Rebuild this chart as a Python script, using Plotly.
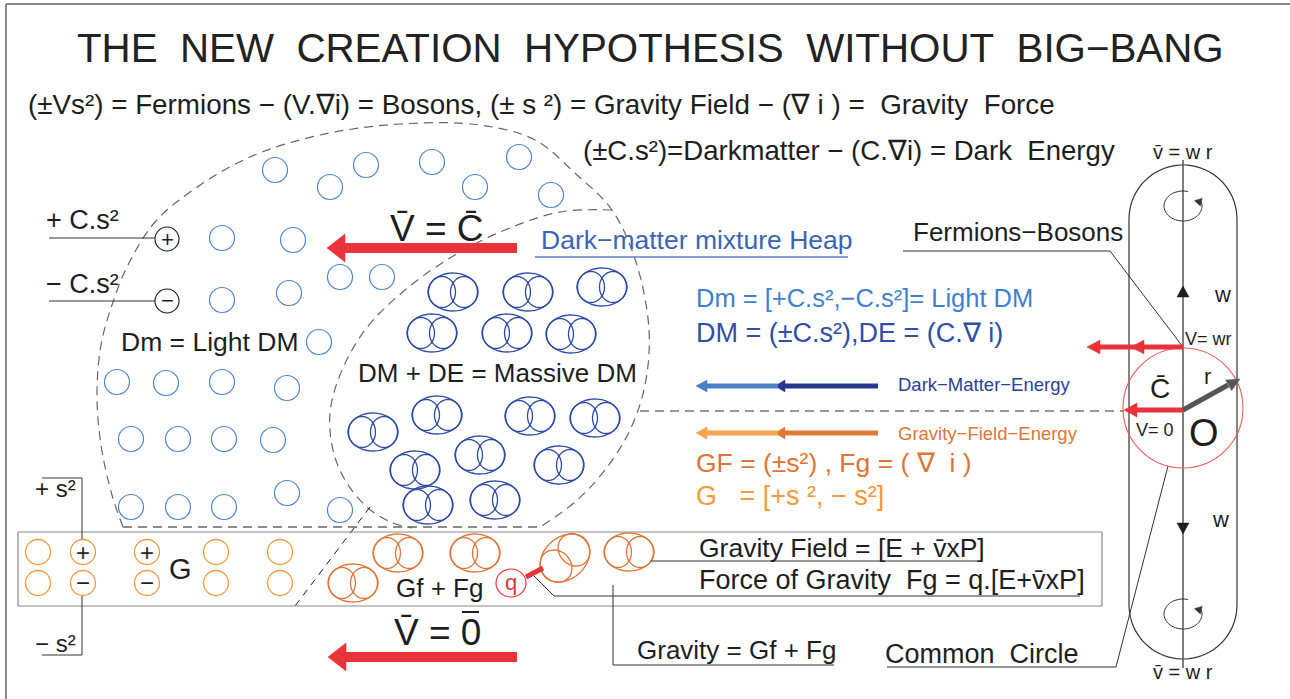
import numpy as np
import plotly.graph_objects as go

W, H = 1290, 699

# ---------------- data ----------------
# light dark-matter particles (single blue circles)
light_dm_x = [275, 330, 366, 432, 475, 519, 551, 222, 293, 340, 382, 222, 289, 319,
              117, 166, 222, 287, 131, 178, 224, 273, 131, 178, 224, 287, 340]
light_dm_y = [170, 187, 165, 162, 187, 157, 195, 238, 240, 277, 277, 300, 293, 342,
              382, 383, 382, 388, 439, 439, 439, 440, 507, 507, 507, 493, 510]
# massive dark-matter particles (paired blue circles)
massive_dm_x = [453, 528, 602, 432, 507, 571, 437, 530, 595, 373, 480, 559, 415, 428, 495]
massive_dm_y = [292, 292, 287, 333, 333, 334, 415, 416, 418, 432, 455, 465, 470, 505, 500]
# gravity field particles (single orange circles in the G band)
g_col_x = [38, 83, 147, 216, 280]
g_row_y = [552, 583]
charged_x = [83, 147]          # columns holding + (top row) and - (bottom row)
# Gf + Fg orange pairs
gf_pair_x = [398, 475, 353, 629, 565]
gf_pair_y = [553, 553, 583, 552, 558]
gf_pair_rot = [0, 0, 0, 0, -42]
# dashed boundaries
outer_x = [123, 112, 101, 97, 101, 112, 128, 155, 193, 250, 320, 400, 480, 535, 577,
           612, 636, 649, 645, 630, 605, 575, 540]
outer_y = [527, 495, 445, 395, 345, 305, 265, 222, 190, 157, 135, 124, 125, 140, 175,
           210, 262, 330, 385, 430, 470, 502, 527]
inner_x = [612, 560, 505, 455, 405, 365, 340, 330, 333, 345, 368, 393, 412]
inner_y = [210, 212, 230, 255, 290, 330, 375, 413, 450, 480, 508, 523, 528]

# ---------------- styles ----------------
FONT = "Liberation Sans, Arial, sans-serif"
BLACK = "#1e1e1e"
RED = "#e8333b"
LBLUE = "#4d84d1"
DBLUE = "#2c4aa6"
LORANGE = "#f59a3c"
DORANGE = "#df7434"
GREY = "#666666"

shapes = []
ann = []


def nb(s):
    return s.replace(" ", "\u00a0")


def txt(x, y, s, size, color=BLACK, xanchor="left"):
    ann.append(dict(x=x, y=y, xref="x", yref="y", text=nb(s), showarrow=False,
                    xanchor=xanchor, yanchor="middle",
                    font=dict(family=FONT, size=size, color=color)))


def pth(xs, ys, close=False):
    s = "M " + " L ".join(f"{a:.1f},{b:.1f}" for a, b in zip(xs, ys))
    return s + (" Z" if close else "")


def line(x0, y0, x1, y1, color=BLACK, width=1, dash=None):
    d = dict(color=color, width=width)
    if dash:
        d["dash"] = dash
    shapes.append(dict(type="line", xref="x", yref="y", x0=x0, y0=y0, x1=x1, y1=y1, line=d))


def poly(xs, ys, color=BLACK, width=1, fill=None, close=False, dash=None):
    d = dict(color=color, width=width)
    if dash:
        d["dash"] = dash
    shapes.append(dict(type="path", xref="x", yref="y", path=pth(xs, ys, close),
                       line=d, fillcolor=fill if fill else "rgba(0,0,0,0)"))


def circle(cx, cy, r, color, width=1.2, ry=None):
    ry = r if ry is None else ry
    shapes.append(dict(type="circle", xref="x", yref="y", x0=cx - r, x1=cx + r,
                       y0=cy - ry, y1=cy + ry, line=dict(color=color, width=width)))


def ellipse(cx, cy, rx, ry, rot=0, ox=0.0, oy=0.0, n=64):
    t = np.linspace(0, 2 * np.pi, n)
    x = ox + rx * np.cos(t)
    y = oy + ry * np.sin(t)
    a = np.radians(rot)
    return cx + x * np.cos(a) - y * np.sin(a), cy + x * np.sin(a) + y * np.cos(a)


def pair(cx, cy, color, rot=0, scale=1.0):
    for (rx, ry, ox) in [(25, 19, 0), (13.5, 15.5, -11), (13.5, 15.5, 11)]:
        xs, ys = ellipse(cx, cy, rx * scale, ry * scale, rot, ox * scale)
        poly(xs, ys, color=color, width=1.3, close=True)


def head(tx, ty, ux, uy, length, half, color):
    # triangle head with tip (tx,ty), pointing along unit vector (ux,uy)
    bx, by = tx - ux * length, ty - uy * length
    px, py = -uy, ux
    poly([tx, bx + px * half, bx - px * half], [ty, by + py * half, by - py * half],
         color=color, width=0.5, fill=color, close=True)


def harrow(x_from, x_to, y, color, width, hl, hw):
    # horizontal arrow pointing to x_to
    d = 1 if x_to > x_from else -1
    line(x_from, y, x_to - d * hl * 0.9, y, color=color, width=width)
    head(x_to, y, d, 0, hl, hw, color)


# ---------------- frame ----------------
line(6, 4, 6, H + 5, color="#888888", width=2)
line(6, 4, W + 5, 4, color="#888888", width=2)

# ---------------- dashed regions ----------------
traces = [
    go.Scatter(x=outer_x, y=outer_y, mode="lines",
               line=dict(shape="spline", color=GREY, width=1.2, dash="9px,6px"),
               hoverinfo="skip", showlegend=False),
    go.Scatter(x=inner_x, y=inner_y, mode="lines",
               line=dict(shape="spline", color=GREY, width=1.2, dash="9px,6px"),
               hoverinfo="skip", showlegend=False),
]
line(123, 527, 540, 527, color=GREY, width=1.5, dash="9px,6px")
line(370, 507, 295, 606, color=BLACK, width=1, dash="7px,6px")
line(640, 411, 1124, 411, color="#777777", width=1.5, dash="9px,6px")

# ---------------- particles ----------------
for x, y in zip(light_dm_x, light_dm_y):
    circle(x, y, 12.5, LBLUE, 1.2)
for x, y in zip(massive_dm_x, massive_dm_y):
    pair(x, y, DBLUE)

# G band
shapes.append(dict(type="rect", xref="x", yref="y", x0=18, x1=1102, y0=532, y1=606,
                   line=dict(color="#8a8a8a", width=1.2)))
for x in g_col_x:
    for y in g_row_y:
        circle(x, y, 12.5, LORANGE, 1.3)
for x in charged_x:
    txt(x, g_row_y[0], "+", 24, BLACK, "center")
    txt(x, g_row_y[1] - 1, "−", 24, BLACK, "center")
for x, y, r in zip(gf_pair_x, gf_pair_y, gf_pair_rot):
    pair(x, y, DORANGE, r, 1.0 if r == 0 else 1.1)

# + C.s2 / - C.s2 charges
circle(167, 239, 12, BLACK, 1.1)
circle(167, 301, 12, BLACK, 1.1)
txt(167, 239, "+", 22, BLACK, "center")
txt(167, 300, "−", 22, BLACK, "center")
line(49, 238, 155, 238, color="#333333", width=1)
line(49, 301, 155, 301, color="#333333", width=1)
txt(44, 220, "+ C.s²", 27)
txt(44, 284, "− C.s²", 27)

# + s2 / - s2 leaders
poly([42, 82, 82], [478, 478, 539], color="#333333", width=1)
poly([82, 82, 42], [596, 655, 655], color="#333333", width=1)
txt(33, 488, "+ s²", 24)
txt(33, 643, "− s²", 24)

# ---------------- texts ----------------
txt(650, 48, "THE  NEW  CREATION  HYPOTHESIS  WITHOUT  BIG−BANG", 40.3, "#222222", "center")
txt(26, 104, "(±Vs²) = Fermions − (V.∇i) = Bosons, (± s ²) = Gravity Field − (∇ i ) =  Gravity  Force", 27.8)
txt(581, 150, "(±C.s²)=Darkmatter − (C.∇i) = Dark  Energy", 27.6)

txt(119, 342, "Dm = Light DM", 26.5)
txt(356, 373, "DM + DE = Massive DM", 26)
txt(180, 569, "G", 29, BLACK, "center")
txt(394, 588, "Gf + Fg", 26)

txt(539, 240, "Dark−matter mixture Heap", 26.5, "#3d63b8")
line(535, 257, 848, 257, color="#5b7fc4", width=1.5)
txt(694, 298, "Dm = [+C.s²,−C.s²]= Light DM", 25.5, "#3f7fcf")
txt(694, 333, "DM = (±C.s²),DE = (C.∇ i)", 27, "#2e4ea8")
txt(896, 384, "Dark−Matter−Energy", 18.5, "#2b3f98")
txt(896, 433, "Gravity−Field−Energy", 18.5, DORANGE)
txt(694, 463, "GF = (±s²) , Fg = ( ∇  i )", 26.5, DORANGE)
txt(694, 496, "G   = [+s ², − s²]", 27, LORANGE)

# energy arrows
line(785, 386, 878, 386, color="#27368f", width=5)
head(775, 386, -1, 0, 10, 6, "#27368f")
line(707, 386, 778, 386, color="#4a7fc9", width=5)
head(696, 386, -1, 0, 11, 6, "#4a7fc9")
line(785, 433, 878, 433, color="#e07836", width=5)
head(775, 433, -1, 0, 10, 6, "#e07836")
line(707, 433, 778, 433, color="#f7a24c", width=5)
head(696, 433, -1, 0, 11, 6, "#f7a24c")

# big velocity arrows
txt(437, 228, "V\u0304 = C\u0304", 37, BLACK, "center")
harrow(517, 327, 248, RED, 10, 18, 14)
txt(437, 632, "V\u0304 = 0", 37, BLACK, "center")
line(462, 612, 479, 612, color=BLACK, width=2)
harrow(517, 328, 657, RED, 10, 18, 14)

# q charge
circle(511, 583, 15, RED, 1.2, ry=14)
txt(511, 582, "q", 22, RED, "center")
line(526, 577, 543, 568, color=RED, width=5)

# gravity labels
txt(697, 548, "Gravity Field = [E + v\u0304xP]", 26.5)
poly([651, 982], [561, 561], color="#333333", width=1)
txt(697, 580, "Force of Gravity  Fg = q.[E+v\u0304xP]", 27)
poly([534, 554, 1080], [576, 596, 596], color="#333333", width=1)
txt(635, 650, "Gravity = Gf + Fg", 26)
poly([613, 613, 834], [585, 665, 665], color="#333333", width=1)
txt(883, 654, "Common  Circle", 27)
poly([887, 1116, 1168], [667, 667, 466], color="#333333", width=1)
txt(911, 232, "Fermions−Bosons", 26)
poly([903, 1110, 1183], [251, 251, 347], color="#333333", width=1)

# ---------------- common circle (right) ----------------
cx, top, bot, rr = 1183, 165, 659, 54
t1 = np.linspace(np.pi, 2 * np.pi, 40)
t2 = np.linspace(0, np.pi, 40)
cap_x = list(cx + rr * np.cos(t1)) + list(cx + rr * np.cos(t2))
cap_y = list(top + rr + rr * np.sin(t1)) + list(bot - rr + rr * np.sin(t2))
poly(cap_x, cap_y, color="#333333", width=1.2, close=True)
line(cx, 160, cx, 668, color="#555555", width=1.5)
circle(cx, 408, 60, "#ef5a5a", 1.1)

txt(cx, 152, "v\u0304 = w r", 20, BLACK, "center")
txt(cx, 672, "v\u0304 = w r", 20, BLACK, "center")

for cyy in (206, 614):
    tt = np.linspace(np.radians(75), np.radians(375), 50)
    ax = cx + 19 * np.cos(tt)
    ay = cyy - 15 * np.sin(tt)
    poly(ax, ay, color="#333333", width=1)
    head(ax[-1] - 1, ay[-1] + 4, 0.3, 0.95, 7, 4, "#333333")

head(cx, 286, 0, -1, 11, 6, BLACK)
txt(1212, 294, "w", 22)
head(cx, 534, 0, 1, 11, 6, BLACK)
txt(1210, 519, "w", 22)

txt(1183, 339, "V= wr", 18)
harrow(1183, 1087, 347, RED, 5, 13, 7)
head(1131, 347, -1, 0, 13, 7, RED)
harrow(1183, 1124, 410, RED, 5, 13, 7)
txt(1160, 388, "C\u0304", 28, BLACK, "center")
txt(1207, 376, "r", 22, BLACK, "center")
line(1183, 410, 1228, 385, color="#555555", width=5)
head(1240, 379, 0.874, -0.486, 13, 6, "#555555")
txt(1134, 430, "V= 0", 18)
txt(1204, 433, "O", 38, BLACK, "center")

fig = go.Figure(data=traces)
fig.update_layout(
    width=W, height=H, margin=dict(l=0, r=0, t=0, b=0),
    paper_bgcolor="white", plot_bgcolor="white",
    xaxis=dict(range=[0, W], visible=False, fixedrange=True),
    yaxis=dict(range=[H, 0], visible=False, fixedrange=True),
    shapes=shapes, annotations=ann, showlegend=False,
)
# remove the default 8px page margin so the figure fills the window exactly
fig.write_html("out.html", config=dict(displayModeBar=False),
               post_script="document.body.style.margin='0';document.body.style.overflow='hidden';")
